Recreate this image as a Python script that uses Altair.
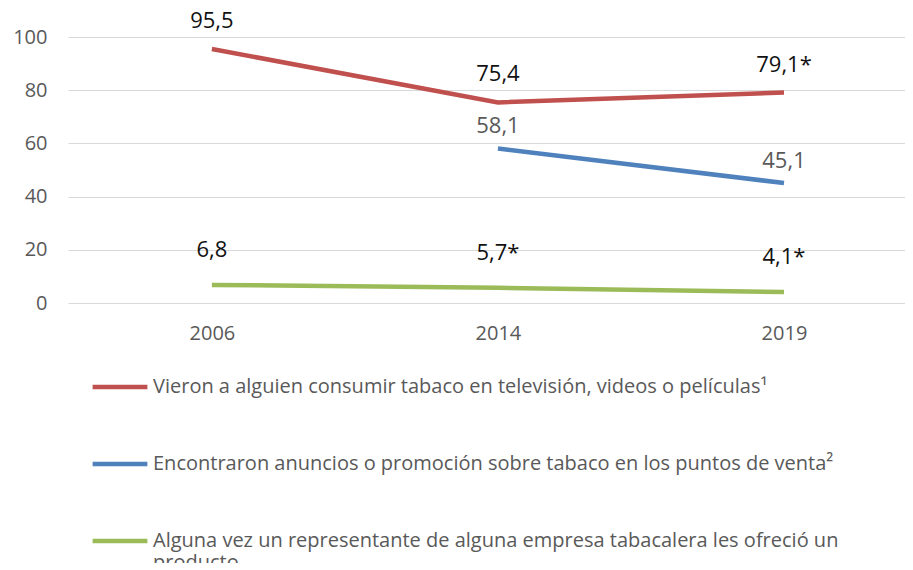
import altair as alt
import pandas as pd

years = ["2006", "2014", "2019"]
series_names = [
    "Vieron a alguien consumir tabaco en televisión, videos o películas¹",
    "Encontraron anuncios o promoción sobre tabaco en los puntos de venta²",
    "Alguna vez un representante de alguna empresa tabacalera les ofreció un producto",
]
red_values = [95.5, 75.4, 79.1]
blue_values = [None, 58.1, 45.1]
green_values = [6.8, 5.7, 4.1]
red_labels = ["95,5", "75,4", "79,1*"]
blue_labels = ["", "58,1", "45,1"]
green_labels = ["6,8", "5,7*", "4,1*"]

colors = ["#C0504D", "#4F81BD", "#9BBB59"]
label_colors = ["#111111", "#595959", "#111111"]
label_dy = [-28, -22, -35]

rows = []
for name, vals, labs in zip(series_names, [red_values, blue_values, green_values],
                            [red_labels, blue_labels, green_labels]):
    for i, (y, v, l) in enumerate(zip(years, vals, labs)):
        if v is not None:
            rows.append({"idx": i, "year": y, "value": v, "series": name, "label": l})
df = pd.DataFrame(rows)

FONT = "Open Sans"
year_expr = "[" + ",".join("'" + y + "'" for y in years) + "][datum.value]"

x_enc = alt.X("idx:Q", scale=alt.Scale(domain=[-0.503, 2.423], nice=False, zero=False),
              axis=alt.Axis(title=None, values=[0, 1, 2], labelExpr=year_expr,
                            ticks=False, domain=False, grid=False,
                            labelPadding=20, labelFontSize=20, labelColor="#595959",
                            labelFont=FONT))
y_enc = alt.Y("value:Q", scale=alt.Scale(domain=[0, 100], nice=False),
              axis=alt.Axis(title=None, values=[0, 20, 40, 60, 80, 100], ticks=False,
                            domain=False, labelPadding=21, labelFontSize=20,
                            labelColor="#595959", labelFont=FONT, gridColor="#D9D9D9",
                            gridWidth=1))

base = alt.Chart(df)

third_split = "['Alguna vez un representante de alguna empresa tabacalera les ofreció un', 'producto']"
lines = base.mark_line(strokeWidth=4.5, strokeCap="butt").encode(
    x=x_enc,
    y=y_enc,
    color=alt.Color("series:N", scale=alt.Scale(domain=series_names, range=colors),
                    sort=series_names,
                    legend=alt.Legend(
                        title=None, orient="none", legendX=22, legendY=320,
                        direction="vertical", symbolType="stroke", symbolSize=3000,
                        symbolStrokeWidth=4.5, rowPadding=37, labelFontSize=20,
                        labelColor="#595959", labelFont=FONT, labelLimit=900,
                        labelOffset=3,
                        labelExpr="datum.label == '" + series_names[2] + "' ? " + third_split + " : datum.label",
                    )),
)

text_layers = []
for name, col, dy in zip(series_names, label_colors, label_dy):
    text_layers.append(
        base.transform_filter(alt.datum.series == name).mark_text(
            fontSize=22, font=FONT, color=col, dy=dy
        ).encode(x=alt.X("idx:Q"), y=alt.Y("value:Q"), text="label:N")
    )

chart = alt.layer(lines, *text_layers).properties(
    width=837, height=266,
    autosize=alt.AutoSizeParams(type="none"),
    padding={"left": 60, "top": 29, "right": 0, "bottom": 260},
).configure_view(stroke=None)

chart.save("out.html", embed_options={"renderer": "svg", "actions": False})
